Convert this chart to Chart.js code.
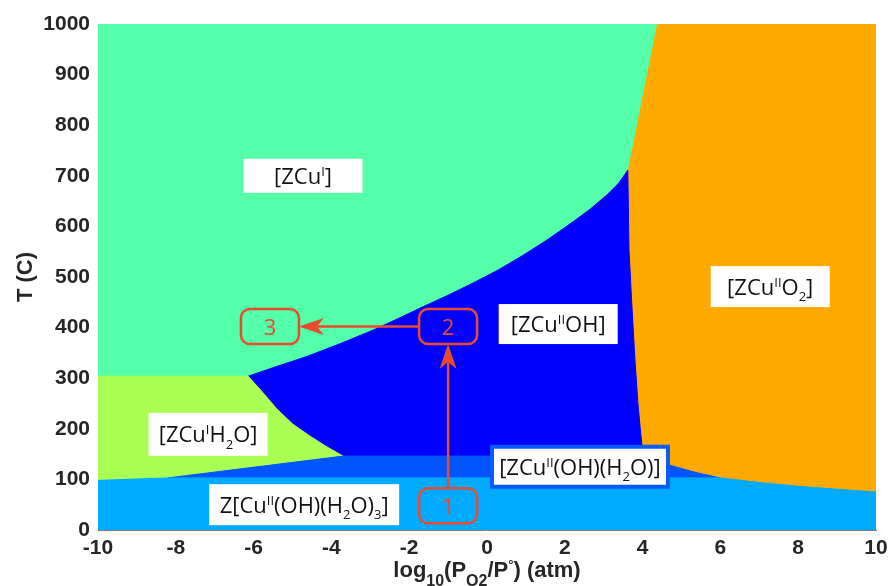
<!DOCTYPE html>
<html>
<head>
<meta charset="utf-8">
<script src="https://cdn.jsdelivr.net/npm/chart.js@4.4.1/dist/chart.umd.min.js"></script>
<style>
html, body { margin: 0; padding: 0; background: #fff; }
</style>
</head>
<body>
<canvas id="phaseChart" width="888" height="586"></canvas>
<script>
// ticks
var xTicks = [-10, -8, -6, -4, -2, 0, 2, 4, 6, 8, 10];
var yTicks = [0, 100, 200, 300, 400, 500, 600, 700, 800, 900, 1000];

// phase boundaries: x = log10(pO2), T in C
var cuIWaterX = [-10, -6.14];            // [ZCuI] / [ZCuIH2O]
var cuIWaterT = [304, 304];
var waterOhX = [-6.14, -5.78, -5.40, -4.99, -4.52, -4.11, -3.70];   // [ZCuIH2O] / [ZCuIIOH]
var waterOhT = [304, 273, 239, 209, 184, 164, 146];
var cuIOhX = [-6.14, -5.49, -4.63, -3.78, -2.93, -2.28, -1.65, -1.00, -0.36, 0.29,
              0.93, 1.58, 2.21, 2.65, 3.08, 3.38, 3.62];   // [ZCuI] / [ZCuIIOH]
var cuIOhT = [304, 321, 343, 368, 395, 418, 441, 464, 488, 514,
              543, 575, 609, 634, 662, 685, 711];
var cuIO2X = [3.62, 4.37];               // [ZCuI] / [ZCuIIO2]
var cuIO2T = [711, 1000];
var ohO2X = [3.62, 3.65, 3.72, 3.80, 3.88, 3.94, 3.98, 4.01];   // [ZCuIIOH] / [ZCuIIO2]
var ohO2T = [711, 553, 450, 340, 250, 200, 170, 146];
var ohHydX = [-3.70, 4.01];              // [ZCuIIOH] / [ZCuII(OH)(H2O)]
var ohHydT = [146, 146];
var o2HydX = [4.01, 4.30, 4.70, 5.40, 5.99];   // [ZCuIIO2] / [ZCuII(OH)(H2O)]
var o2HydT = [146, 136, 128, 113, 103];
var waterBotX = [-10, -8.2, -3.70];      // [ZCuIH2O] lower edge
var waterBotT = [100, 103, 146];
var trihydTopX = [-10, -8.2, 5.99, 7.0, 8.05, 10];   // Z[CuII(OH)(H2O)3] upper edge
var trihydTopT = [98, 103, 103, 94, 86, 75];

// labels
var phaseNames = [
  [['[ZCu'], ['I', 'sup'], [']']],
  [['[ZCu'], ['II', 'sup'], ['OH]']],
  [['[ZCu'], ['II', 'sup'], ['O'], ['2', 'sub'], [']']],
  [['[ZCu'], ['I', 'sup'], ['H'], ['2', 'sub'], ['O]']],
  [['Z[Cu'], ['II', 'sup'], ['(OH)(H'], ['2', 'sub'], ['O)'], ['3', 'sub'], [']']],
  [['[ZCu'], ['II', 'sup'], ['(OH)(H'], ['2', 'sub'], ['O)]']]
];
var phaseLabelX = [-4.73, 1.83, 7.28, -7.17, -4.70, 2.39];
var phaseLabelT = [700, 407, 481, 189, 50, 125];
var stepNames = ['1', '2', '3'];
var stepX = [-1.0, -1.0, -5.58];
var stepT = [48, 402, 402];

// styles
var labelBoxW = [119, 119, 119, 119, 190, 172];
var labelBoxH = [34, 40, 41, 43, 41, 36];
var labelBorder = [0, 0, 0, 0, 0, 4];
var RED = '#eb4b2d';
var TXT = '#262626';

function pts(xs, ts) {
  return xs.map(function(x, i) { return {x: x, y: ts[i]}; });
}
function rev(a) { return a.slice().reverse(); }

var nTop = trihydTopX.indexOf(5.99);
var polyCuI = pts([-10, 10, 10, -10], [0, 0, 1000, 1000]);
var polyO2 = [{x: 4.37, y: 1000}, {x: 10, y: 1000}]
  .concat(rev(pts(trihydTopX.slice(nTop), trihydTopT.slice(nTop))))
  .concat(rev(pts(o2HydX, o2HydT)).slice(1))
  .concat(rev(pts(ohO2X, ohO2T)).slice(1));
var polyOh = pts(cuIOhX, cuIOhT)
  .concat(pts(ohO2X, ohO2T).slice(1))
  .concat(rev(pts(ohHydX, ohHydT)).slice(1))
  .concat(rev(pts(waterOhX, waterOhT)).slice(1, -1));
var polyWater = pts(cuIWaterX, cuIWaterT)
  .concat(pts(waterOhX, waterOhT).slice(1))
  .concat(rev(pts(waterBotX, waterBotT)).slice(1));
var polyHyd = pts(waterBotX.slice(1), waterBotT.slice(1))
  .concat(pts(ohHydX, ohHydT).slice(1))
  .concat(pts(o2HydX, o2HydT).slice(1))
  .concat(rev(pts(trihydTopX.slice(1, nTop + 1), trihydTopT.slice(1, nTop + 1))).slice(1));
var polyTri = [{x: -10, y: 0}, {x: 10, y: 0}].concat(rev(pts(trihydTopX, trihydTopT)));

// back to front
var regions = [
  {data: polyCuI, color: '#55ffaa'},
  {data: polyO2, color: '#ffaa00'},
  {data: polyOh, color: '#0000ff'},
  {data: polyWater, color: '#aaff55'},
  {data: polyHyd, color: '#0055ff'},
  {data: polyTri, color: '#00aaff'}
];

function drawRich(ctx, parts, cx, baseY, size, weight, family, color, subScale, subDrop) {
  subScale = subScale || 0.6;
  subDrop = subDrop || 0.28;
  function fontFor(mode) {
    var s = mode == 'sub' ? size * subScale : (mode == 'sup' ? size * 0.6 : size);
    return weight + ' ' + Math.round(s) + 'px ' + family;
  }
  var w = 0;
  parts.forEach(function(p) {
    ctx.font = fontFor(p[1]);
    w += ctx.measureText(p[0]).width;
  });
  var x = cx - w / 2;
  ctx.fillStyle = color;
  ctx.textAlign = 'left';
  ctx.textBaseline = 'alphabetic';
  parts.forEach(function(p) {
    ctx.font = fontFor(p[1]);
    var dy = p[1] == 'sup' ? -size * 0.36 : (p[1] == 'sub' ? size * subDrop : 0);
    ctx.fillText(p[0], x, baseY + dy);
    x += ctx.measureText(p[0]).width;
  });
}
function roundRect(ctx, x, y, w, h, r) {
  ctx.beginPath();
  ctx.moveTo(x + r, y);
  ctx.arcTo(x + w, y, x + w, y + h, r);
  ctx.arcTo(x + w, y + h, x, y + h, r);
  ctx.arcTo(x, y + h, x, y, r);
  ctx.arcTo(x, y, x + w, y, r);
  ctx.closePath();
}
function arrow(ctx, x1, y1, x2, y2) {
  var a = Math.atan2(y2 - y1, x2 - x1);
  var len = 25, half = 8.5, back = 7;
  ctx.strokeStyle = RED;
  ctx.lineWidth = 2.5;
  ctx.beginPath();
  ctx.moveTo(x1, y1);
  ctx.lineTo(x2 - Math.cos(a) * (len - back), y2 - Math.sin(a) * (len - back));
  ctx.stroke();
  ctx.save();
  ctx.translate(x2, y2);
  ctx.rotate(a);
  ctx.fillStyle = RED;
  ctx.beginPath();
  ctx.moveTo(0, 0);
  ctx.lineTo(-len, -half);
  ctx.lineTo(-len + back, 0);
  ctx.lineTo(-len, half);
  ctx.closePath();
  ctx.fill();
  ctx.restore();
}

var annotations = {
  id: 'annotations',
  afterDatasetsDraw: function(chart) {
    var ctx = chart.ctx, xs = chart.scales.x, ys = chart.scales.y;
    ctx.save();
    // phase labels
    phaseNames.forEach(function(parts, i) {
      var cx = xs.getPixelForValue(phaseLabelX[i]);
      var cy = ys.getPixelForValue(phaseLabelT[i]);
      var w = labelBoxW[i], h = labelBoxH[i], b = labelBorder[i];
      if (b) {
        ctx.fillStyle = '#0a5bff';
        ctx.fillRect(cx - w / 2 - b, cy - h / 2 - b, w + 2 * b, h + 2 * b);
      }
      ctx.fillStyle = '#ffffff';
      ctx.fillRect(cx - w / 2, cy - h / 2, w, h);
      drawRich(ctx, parts, cx, cy + 8, 22, 'normal', '"Open Sans"', '#111111');
    });
    // steps and arrows
    var bw = 58, bh = 35;
    var px = stepX.map(function(v) { return xs.getPixelForValue(v); });
    var py = stepT.map(function(v) { return ys.getPixelForValue(v); });
    arrow(ctx, px[0], py[0] - bh / 2, px[1], py[1] + bh / 2);
    arrow(ctx, px[1] - bw / 2, py[1], px[2] + bw / 2, py[2]);
    stepNames.forEach(function(s, i) {
      ctx.strokeStyle = RED;
      ctx.lineWidth = 2.5;
      roundRect(ctx, px[i] - bw / 2, py[i] - bh / 2, bw, bh, 9);
      ctx.stroke();
      ctx.font = 'normal 22px "Open Sans"';
      ctx.fillStyle = RED;
      ctx.textAlign = 'center';
      ctx.textBaseline = 'alphabetic';
      ctx.fillText(s, px[i], py[i] + 8);
    });
    ctx.restore();
  },
  afterDraw: function(chart) {
    var ctx = chart.ctx, a = chart.chartArea;
    ctx.save();
    drawRich(ctx, [['log'], ['10', 'sub'], ['(P'], ['O2', 'sub'], ['/P'], ['\u00b0', 'sup'], [') (atm)']],
      (a.left + a.right) / 2, a.bottom + 47, 22, 'bold', '"Liberation Sans"', TXT, 0.73, 0.4);
    ctx.translate(a.left - 66, (a.top + a.bottom) / 2);
    ctx.rotate(-Math.PI / 2);
    ctx.font = 'bold 22px "Liberation Sans"';
    ctx.fillStyle = TXT;
    ctx.textAlign = 'center';
    ctx.fillText('T (C)', 0, 0);
    ctx.restore();
  }
};

var tickFont = {family: '"Liberation Sans"', size: 21, weight: 'bold'};

new Chart(document.getElementById('phaseChart').getContext('2d'), {
  type: 'line',
  data: {
    datasets: regions.map(function(r, i) {
      return {
        data: r.data,
        order: regions.length - i,
        fill: 'shape',
        backgroundColor: r.color,
        borderColor: r.color,
        borderWidth: 1,
        pointRadius: 0,
        tension: 0
      };
    })
  },
  options: {
    responsive: false,
    animation: false,
    events: [],
    layout: {padding: {left: 0, right: 12, top: 24, bottom: 0}},
    plugins: {legend: {display: false}, tooltip: {enabled: false}},
    scales: {
      x: {
        type: 'linear', min: -10, max: 10, z: 1,
        afterBuildTicks: function(s) { s.ticks = xTicks.map(function(v) { return {value: v}; }); },
        afterFit: function(s) { s.height = 56; s.paddingLeft = 0; s.paddingRight = 0; },
        grid: {display: false, drawTicks: false},
        border: {display: true, color: '#7a7a7a', width: 1},
        ticks: {font: tickFont, color: TXT, padding: 6, maxRotation: 0, autoSkip: false,
          callback: function(v) { return String(v); }}
      },
      y: {
        type: 'linear', min: 0, max: 1000, z: 1,
        afterBuildTicks: function(s) { s.ticks = yTicks.map(function(v) { return {value: v}; }); },
        afterFit: function(s) { s.width = 98; },
        grid: {display: false, drawTicks: false},
        border: {display: true, color: '#7a7a7a', width: 1},
        ticks: {font: tickFont, color: TXT, padding: 8, autoSkip: false,
          callback: function(v) { return String(v); }}
      }
    }
  },
  plugins: [annotations]
});
</script>
</body>
</html>
